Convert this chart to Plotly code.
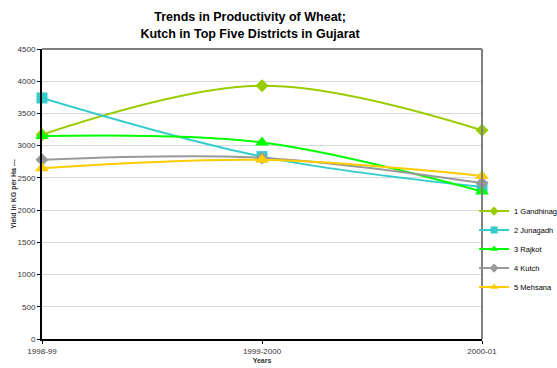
import plotly.graph_objects as go

years = ["1998-99", "1999-2000", "2000-01"]
districts = ["1 Gandhinag", "2 Junagadh", "3 Rajkot", "4 Kutch", "5 Mehsana"]
gandhinagar = [3170, 3930, 3240]
junagadh = [3740, 2830, 2360]
rajkot = [3150, 3050, 2290]
kutch = [2780, 2810, 2420]
mehsana = [2650, 2780, 2530]
y_ticks = list(range(0, 4501, 500))

series = [gandhinagar, junagadh, rajkot, kutch, mehsana]
colors = ["#99CC00", "#33CCCC", "#00FF00", "#999999", "#FFCC00"]
symbols = ["diamond", "square", "triangle-up", "diamond", "triangle-up"]
sizes = [10, 11, 12, 10, 12]

fig = go.Figure()
xs = list(range(len(years)))
for name, vals, c, s, sz in zip(districts, series, colors, symbols, sizes):
    fig.add_trace(go.Scatter(
        x=xs, y=vals, name=name, mode="lines+markers", showlegend=False,
        legendgroup=name, cliponaxis=False,
        line=dict(color=c, width=2, shape="spline", smoothing=1.0),
        marker=dict(symbol=s, size=sz, color=c),
    ))
# legend entries with small markers, like the reference
for name, c, s in zip(districts, colors, symbols):
    fig.add_trace(go.Scatter(
        x=[None], y=[None], name=name, mode="lines+markers",
        legendgroup=name,
        line=dict(color=c, width=2),
        marker=dict(symbol=s, size=7, color=c),
    ))

fig.update_layout(
    width=557, height=368,
    margin=dict(l=42, r=75, t=49, b=29, autoexpand=False),
    paper_bgcolor="white", plot_bgcolor="white",
    font=dict(family="Liberation Sans, Arial, sans-serif", size=8, color="#333333"),
    title=dict(
        text="<b>Trends in Productivity of Wheat;<br>Kutch in Top Five Districts in Gujarat</b>",
        x=0.449, xanchor="center", y=0.942, yanchor="top",
        font=dict(size=12.5, color="#000000"),
    ),
    showlegend=True,
    legend=dict(
        x=0.982, xanchor="left", y=0.31, yanchor="middle",
        font=dict(size=7.5, color="#000000"),
        tracegroupgap=0, itemwidth=30,
        bgcolor="rgba(0,0,0,0)",
    ),
    xaxis=dict(
        tickmode="array", tickvals=xs, ticktext=years,
        range=[0, 2], showgrid=False, zeroline=False, automargin=False,
        showline=True, linecolor="#000000", linewidth=2,
        ticks="outside", ticklen=3, tickcolor="#000000",
        title=dict(text="<b>Years</b>", font=dict(size=7), standoff=4),
    ),
    yaxis=dict(
        range=[0, 4500], tickvals=y_ticks, automargin=False,
        showgrid=True, gridcolor="#D9D9D9", gridwidth=1, zeroline=False,
        showline=True, linecolor="#000000", linewidth=2,
        ticks="outside", ticklen=3, tickcolor="#000000",
        title=dict(text="<b>Yield in KG per Ha ---</b>", font=dict(size=7), standoff=0),
    ),
    shapes=[
        dict(type="line", xref="paper", yref="paper", x0=0, x1=1, y0=1, y1=1,
             line=dict(color="#808080", width=2)),
        dict(type="line", xref="paper", yref="paper", x0=1, x1=1, y0=0, y1=1,
             line=dict(color="#808080", width=2)),
    ],
)

fig.write_html(
    "out.html",
    config={"displayModeBar": False},
    post_script="document.body.style.margin='0';document.body.style.overflow='hidden';",
)
